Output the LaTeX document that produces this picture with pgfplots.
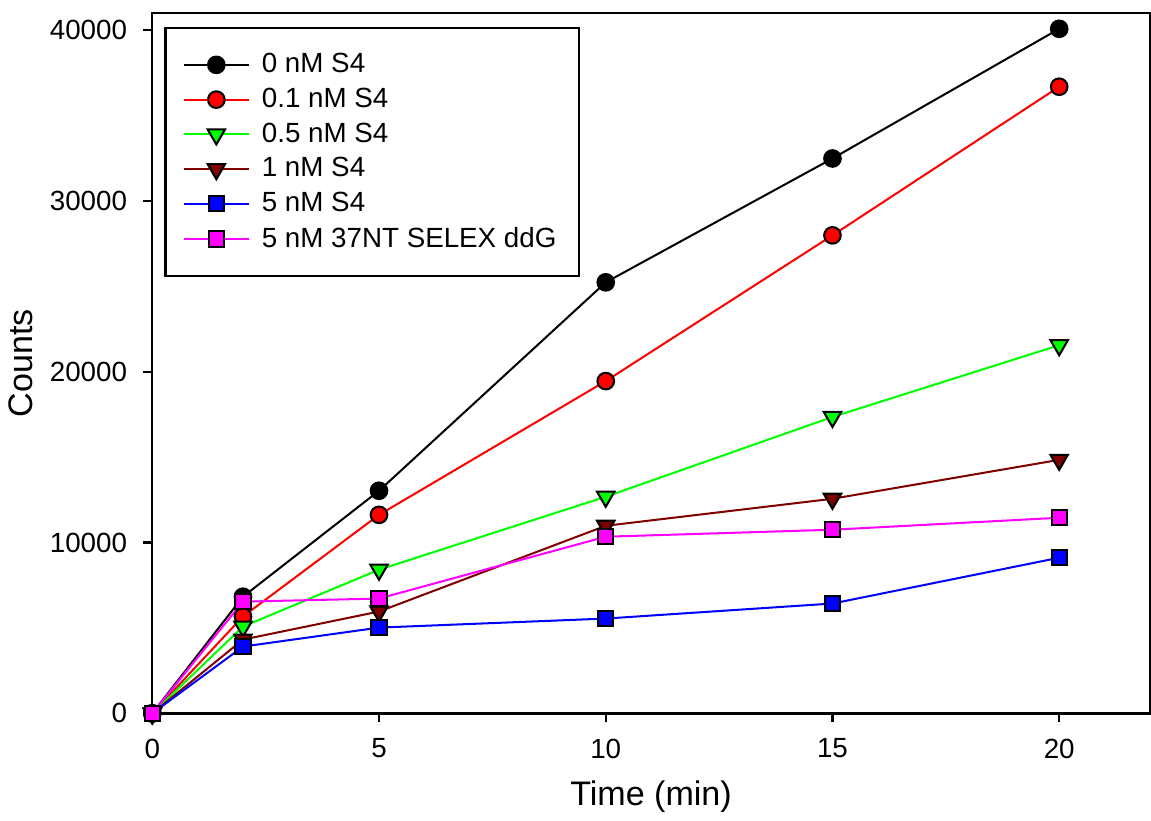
\documentclass[border=0pt]{standalone}
\usepackage{fontspec}
\setmainfont{Liberation Sans}
\usepackage{pgfplots}
\pgfplotsset{compat=1.18}

\definecolor{dkred}{RGB}{128,0,0}
\definecolor{brgreen}{RGB}{0,255,0}
\definecolor{mag}{RGB}{255,0,255}

\begin{document}
\begin{tikzpicture}
\begin{axis}[
  scale only axis,
  width=13.9cm, height=9.76cm,
  xmin=0, xmax=22, ymin=0, ymax=41000,
  xtick={0,5,10,15,20}, ytick={0,10000,20000,30000,40000},
  scaled y ticks=false,
  /pgf/number format/assume math mode=true,
  yticklabel={\pgfmathprintnumber[fixed,1000 sep={}]{\tick}},
  tick align=outside, tick pos=left,
  major tick length=3.5pt,
  tick label style={font=\fontsize{11}{13}\selectfont},
  xticklabel style={yshift=-3pt},
  yticklabel style={xshift=-3pt},
  xlabel={Time (min)}, ylabel={Counts},
  label style={font=\fontsize{13.5}{15}\selectfont},
  xlabel style={yshift=-2pt},
  axis line style={line width=0.9pt},
  every tick/.style={black, line width=0.9pt},
  clip=false,
  legend style={at={(0.012,0.98)}, anchor=north west, draw=black, line width=0.9pt,
    font=\fontsize{11}{13}\selectfont, row sep=0.6pt, inner xsep=7pt, inner ysep=8pt},
  legend cell align=left,
  every axis plot/.append style={line width=0.8pt},
  legend image code/.code={
    \draw[mark repeat=2,mark phase=2] plot coordinates {(0cm,0cm) (0.45cm,0cm) (0.9cm,0cm)};
    \path (1.0cm,0cm);},
]
\addplot[black, mark=*, mark size=3.3pt, mark options={draw=black, fill=black}] coordinates {
  (0,0) (2,6830) (5,13030) (10,25230) (15,32480) (20,40070)};
\addlegendentry{0 nM S4}
\addplot[red, mark=*, mark size=3.3pt, mark options={draw=black, fill=red}] coordinates {
  (0,0) (2,5670) (5,11620) (10,19450) (15,27980) (20,36680)};
\addlegendentry{0.1 nM S4}
\addplot[brgreen, mark=triangle*, mark size=4pt, mark options={draw=black, fill=brgreen, rotate=180}] coordinates {
  (0,0) (2,5080) (5,8410) (10,12680) (15,17350) (20,21550)};
\addlegendentry{0.5 nM S4}
\addplot[dkred, mark=triangle*, mark size=4pt, mark options={draw=black, fill=dkred, rotate=180}] coordinates {
  (0,0) (2,4320) (5,5960) (10,10980) (15,12560) (20,14840)};
\addlegendentry{1 nM S4}
\addplot[blue, mark=square*, mark size=3pt, mark options={draw=black, fill=blue}] coordinates {
  (0,0) (2,3910) (5,5020) (10,5550) (15,6430) (20,9110)};
\addlegendentry{5 nM S4}
\addplot[mag, mark=square*, mark size=3pt, mark options={draw=black, fill=mag}] coordinates {
  (0,0) (2,6540) (5,6720) (10,10340) (15,10750) (20,11450)};
\addlegendentry{5 nM 37NT SELEX ddG}
\path (rel axis cs:0,1) ++(0,0.18cm);
\end{axis}
\end{tikzpicture}
\end{document}
